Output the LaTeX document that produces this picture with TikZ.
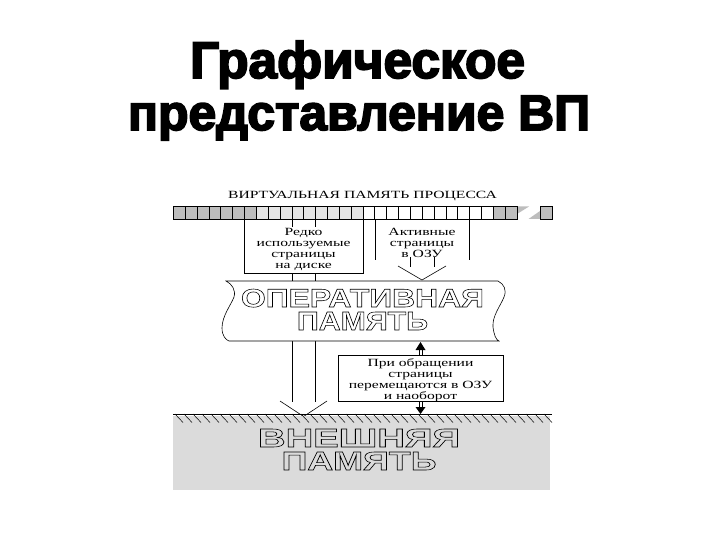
\documentclass[tikz,border=0pt]{standalone}
\usepackage{fontspec}
\setmainfont{Liberation Serif}
\newfontfamily\titlefont[FakeBold=3.5]{Liberation Sans Bold}
\newfontfamily\bigsans{Liberation Sans Bold}
\usepackage{graphicx}
\newcommand\hollowtext[3]{\resizebox{#1}{#2}{\bigsans\fontsize{24}{24}\selectfont\special{pdf:literal direct 1 Tr 0.5 w}#3\special{pdf:literal direct 0 Tr 0.6 w}}}
\definecolor{cellgray}{gray}{0.74}
\definecolor{celllight}{gray}{0.9}
\definecolor{extgray}{gray}{0.86}
\begin{document}
\begin{tikzpicture}[x=1pt,y=-1pt,line width=0.6pt,
  txt/.style={font=\fontsize{11}{11}\selectfont, align=center, inner sep=0pt, xscale=1.42},
  big/.style={inner sep=0pt, align=center, font=\fontsize{18}{23}\selectfont},
  titletxt/.style={inner sep=0pt, anchor=base}]
\useasboundingbox (0,0) rectangle (720,540);
\fill[white] (0,0) rectangle (720,540);

% title
\node[titletxt] (t1) at (357.5,78) {\resizebox{335pt}{!}{\titlefont\fontsize{48}{48}\selectfont Графическое}};
\node[titletxt] (t2) at (359,130) {\resizebox{462pt}{!}{\titlefont\fontsize{48}{48}\selectfont представление ВП}};

% virtual memory strip
\node[txt, anchor=base] (vlabel) at (362.5,198.5) {ВИРТУАЛЬНАЯ ПАМЯТЬ ПРОЦЕССА};
\fill[cellgray] (173.3,206.5) rectangle (256.25,219);
\fill[celllight] (256.25,206.5) rectangle (362.9,219);
\fill[cellgray] (493.3,206.5) rectangle (517,219);
\fill[cellgray] (540.7,206.5) rectangle (552.5,219);
\fill[cellgray] (517,206.5) -- (529,206.5) -- (517,214) -- cycle;
\fill[cellgray] (540.7,210.5) -- (540.7,219) -- (528.5,219) -- cycle;
\draw (173.3,206.5) rectangle (517,219);
\draw (540.7,206.5) rectangle (552.5,219);
\foreach \i in {1,...,28} \draw ({173.3+11.85*\i},206.5) -- ++(0,12.5);
\coordinate (stripA) at (291.8,219);
\coordinate (stripB) at (315.5,219);

% box 1
\draw (244.4,219) -- (244.4,273) -- (362.9,273) -- (362.9,219);
\node[txt] (b1) at (303.6,249) {Редко\\используемые\\страницы\\на диске};
\draw (stripA) -- (291.8,227);
\draw (stripB) -- (315.5,227);
\draw (291.8,273) -- (291.8,282);
\draw (315.5,273) -- (315.5,282);

% box 2
\draw (374.8,219) -- (374.8,260);
\draw (469.6,219) -- (469.6,260);
\node[txt] (b2) at (422,243) {Активные\\страницы\\в ОЗУ};
\draw (410.3,257) -- (410.3,267);
\draw (434,257) -- (434,267);
\coordinate (tip2) at (422,280);
\draw (398,266) -- (tip2) -- (446,266);

% down shaft of box 1 to external memory
\draw (291.8,341) -- (291.8,402);
\draw (315.5,341) -- (315.5,402);
\coordinate (tip1) at (303.6,416.5);
\draw (280,401) -- (tip1) -- (327,401);

% RAM banner
\draw[fill=white] (226,281) -- (498,281)
  .. controls (504,284) and (507,290) .. (504,297)
  .. controls (501,305) and (492,316) .. (493,327)
  .. controls (494,335) and (496,340) .. (499,341)
  -- (229,341)
  .. controls (226,340) and (222,336) .. (222,328)
  .. controls (222,316) and (231,305) .. (234,297)
  .. controls (236,290) and (232,284) .. (226,281) -- cycle;
\node[big] (ram) at (362.5,309.5) {\hollowtext{243pt}{18pt}{ОПЕРАТИВНАЯ}\\\hollowtext{131pt}{18pt}{ПАМЯТЬ}};

% box 3
\draw (338,355) rectangle (503,401);
\node[txt] (b3) at (420.5,380) {При обращении\\страницы\\перемещаются в ОЗУ\\и наоборот};
\draw (418.8,355) -- (418.8,349.5);
\draw (422.2,355) -- (422.2,349.5);
\fill (415.5,350) -- (425.5,350) -- (420.5,342) -- cycle;
\draw (418.8,401) -- (418.8,407.5);
\draw (422.2,401) -- (422.2,407.5);
\fill (415.5,407) -- (425.5,407) -- (420.5,414) -- cycle;

% external memory
\fill[extgray] (173,416) rectangle (550,490);
\draw (173,414) -- (552,414);
\foreach \x in {175,184,...,545} \draw[line width=0.5pt] (\x,414) -- ++(8,8.5);
\node[big] (ext) at (359,449.5) {\hollowtext{202pt}{18pt}{ВНЕШНЯЯ}\\\hollowtext{155pt}{18pt}{ПАМЯТЬ}};
\end{tikzpicture}
\end{document}
